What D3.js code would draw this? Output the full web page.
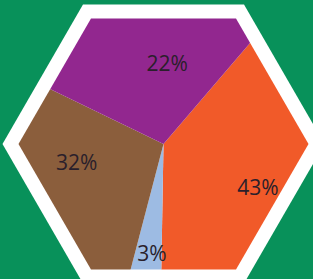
<!DOCTYPE html>
<html>
<head>
<meta charset="utf-8">
<script src="https://cdn.jsdelivr.net/npm/d3@7.9.0/dist/d3.min.js"></script>
<style>
  html, body { margin: 0; padding: 0; background: #08915a; }
  svg { display: block; }
  .lbl { font-family: "Open Sans", sans-serif; font-size: 21px; fill: #2a1f2b; }
</style>
</head>
<body>
<svg id="chart" width="313" height="279"></svg>
<script>
// slice order, clockwise from the purple/orange edge
const names = ['orange', 'blue', 'brown', 'purple'];
const labels = ['43%', '3%', '32%', '22%'];
// share of the circle each slice takes in the picture
const shares = [39, 3.8, 28.1, 29.1];
const colors = ['#f15a29', '#9dbbe3', '#8b5e3c', '#92278f'];

const width = 313, height = 279;
const cx = 163.5, cy = 144;
const hexR = 145;      // coloured hexagon
const frameR = 161;    // white frame behind it

// small nudges so each label sits where the original puts it
const nudge = [[1, 8], [2, 11], [4, -23], [24, 18]];

const svg = d3.select('#chart');

function hexPoints(r) {
  // flat top / bottom: vertices at 0, 60, 120 ... degrees from the x axis
  return d3.range(6).map(i => {
    let a = i * Math.PI / 3;
    return [cx + r * Math.cos(a), cy + r * Math.sin(a)];
  });
}
const line = d3.line().curve(d3.curveLinearClosed);

svg.append('path')
  .attr('d', line(hexPoints(frameR)))
  .attr('fill', '#ffffff');

svg.append('clipPath').attr('id', 'hex')
  .append('path').attr('d', line(hexPoints(hexR)));

const start = 40.6 * Math.PI / 180;
const pie = d3.pie().sort(null).value(d => d)
  .startAngle(start).endAngle(start + 2 * Math.PI);
const arcData = pie(shares);

const arc = d3.arc().innerRadius(0).outerRadius(220);
const labelArc = d3.arc().innerRadius(100).outerRadius(100);

const g = svg.append('g')
  .attr('clip-path', 'url(#hex)');

g.append('g')
  .attr('transform', `translate(${cx},${cy})`)
  .selectAll('path')
  .data(arcData)
  .join('path')
  .attr('d', arc)
  .attr('fill', (d, i) => colors[i]);

svg.append('g')
  .attr('transform', `translate(${cx},${cy})`)
  .selectAll('text')
  .data(arcData)
  .join('text')
  .attr('class', 'lbl')
  .attr('text-anchor', 'middle')
  .attr('dy', '0.35em')
  .attr('x', (d, i) => labelArc.centroid(d)[0] + nudge[i][0])
  .attr('y', (d, i) => labelArc.centroid(d)[1] + nudge[i][1])
  .text((d, i) => labels[i]);
</script>
</body>
</html>
